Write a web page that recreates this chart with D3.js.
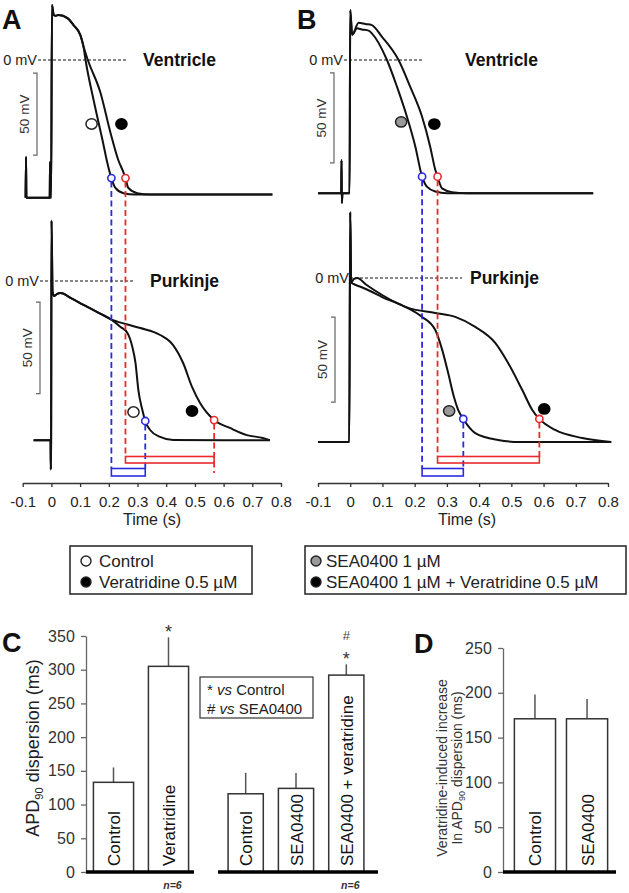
<!DOCTYPE html>
<html><head><meta charset="utf-8">
<script src="https://cdn.jsdelivr.net/npm/d3@7"></script>
<style>
body{margin:0;background:#fff}
svg{display:block}
text{font-family:Arial,"Liberation Sans",Helvetica,sans-serif}
</style>
</head><body>
<svg id="fig" width="629" height="893"></svg>
<script>
// ================= DATA =================
const timeTicks = [-0.1, 0, 0.1, 0.2, 0.3, 0.4, 0.5, 0.6, 0.7, 0.8];

// Action potentials, [time (s), membrane potential (mV)]
const ventA_ctrl = [[-0.09,-84],[-0.0885,-59],[-0.087,-84],[-0.006,-84],[-0.0045,-62],[-0.003,-84],[-0.001,-84],[0.002,33.5],[0.008,27.5],[0.015,27],[0.025,27.4],[0.056,25.5],[0.077,21.3],[0.101,15.2],[0.112,8],[0.119,0],[0.147,-24.4],[0.178,-48.8],[0.195,-62.8],[0.209,-72],[0.223,-78],[0.251,-81.2],[0.292,-82],[0.77,-82]];
const ventA_vera = [[-0.09,-84],[-0.0885,-59],[-0.087,-84],[-0.006,-84],[-0.0045,-62],[-0.003,-84],[-0.001,-84],[0.002,33.5],[0.008,27.5],[0.015,27],[0.025,27.4],[0.056,25.5],[0.077,21.3],[0.101,15.2],[0.114,7],[0.127,0],[0.171,-20],[0.206,-44.5],[0.233,-61],[0.251,-68.5],[0.258,-72],[0.268,-78],[0.299,-81.2],[0.344,-82],[0.77,-82]];
const purkA_ctrl = [[-0.062,-87],[-0.003,-87],[-0.002,-103],[-0.001,-87],[0.0005,33],[0.004,-6],[0.01,-8.2],[0.02,-7],[0.032,-6.6],[0.07,-9.5],[0.112,-13.1],[0.16,-17],[0.206,-20.8],[0.241,-25.1],[0.265,-28.4],[0.282,-36],[0.293,-44.8],[0.303,-59.6],[0.317,-70.5],[0.327,-76.5],[0.344,-81.4],[0.379,-85.2],[0.424,-86.9],[0.761,-87]];
const purkA_vera = [[-0.062,-87],[-0.003,-87],[-0.002,-103],[-0.001,-87],[0.0005,33],[0.004,-6],[0.01,-8.2],[0.02,-7],[0.032,-6.6],[0.07,-9.5],[0.112,-13.1],[0.16,-17],[0.206,-20.8],[0.258,-23.5],[0.31,-25.7],[0.379,-29.5],[0.424,-35],[0.459,-44.8],[0.49,-57.9],[0.518,-66.7],[0.567,-76],[0.622,-80.3],[0.681,-84.2],[0.737,-85.8],[0.761,-87]];
const ventB_sea = [[-0.1,-74],[-0.028,-74],[-0.027,-55.6],[-0.026,-79.4],[-0.024,-74],[-0.002,-74],[0.0,27.8],[0.006,14],[0.021,17.6],[0.036,17],[0.057,16.3],[0.067,14.8],[0.114,0],[0.145,-14.8],[0.176,-31.5],[0.202,-48],[0.223,-64.8],[0.238,-70.4],[0.264,-73.1],[0.3,-74],[0.754,-74]];
const ventB_seav = [[-0.1,-74],[-0.028,-74],[-0.027,-55.6],[-0.026,-79.4],[-0.024,-74],[-0.002,-74],[0.0,27.8],[0.006,14],[0.026,20.7],[0.047,20],[0.067,19.4],[0.098,13],[0.15,0],[0.186,-14.8],[0.223,-31.5],[0.248,-48],[0.264,-61],[0.271,-64.8],[0.285,-71.3],[0.316,-73.4],[0.36,-74],[0.754,-74]];
const purkB_sea = [[-0.1,-96.5],[-0.003,-96.5],[0.0,38.8],[0.003,-2.5],[0.01,-3.5],[0.03,-5],[0.06,-7.5],[0.099,-11.2],[0.16,-16],[0.223,-22.9],[0.264,-30.6],[0.285,-42],[0.304,-55.9],[0.322,-70],[0.335,-77.6],[0.351,-82.9],[0.388,-91.2],[0.459,-95.3],[0.528,-96.5],[0.81,-96.5]];
const purkB_seav = [[-0.1,-96.5],[-0.003,-96.5],[0.0,38.8],[0.003,-2.5],[0.012,-0.5],[0.022,0],[0.05,-4],[0.099,-10],[0.18,-17.6],[0.264,-20.6],[0.326,-22.9],[0.388,-28.8],[0.45,-38.2],[0.49,-50],[0.534,-65.9],[0.565,-77.6],[0.587,-82.9],[0.636,-89.4],[0.72,-94.1],[0.81,-96.5]];

// condition markers next to the traces, [time, mV]
const markA_vent = [[0.14,-39],[0.244,-39]];
const markA_purk = [[0.286,-71.6],[0.49,-71]];
const markB_vent = [[0.158,-34.4],[0.261,-35.6]];
const markB_purk = [[0.307,-78.2],[0.602,-77]];

// APD90 end points: ventricle ctrl, ventricle drug, Purkinje ctrl, Purkinje drug
const apd90A_t  = [0.209, 0.258, 0.327, 0.567];
const apd90A_mV = [-72, -72, -76.5, -76];
const apd90B_t  = [0.223, 0.271, 0.351, 0.587];
const apd90B_mV = [-64.8, -64.8, -82.9, -82.9];

const legendA = ["Control", "Veratridine 0.5 \u00b5M"];
const legendB = ["SEA0400 1 \u00b5M", "SEA0400 1 \u00b5M + Veratridine 0.5 \u00b5M"];

// Panel C
const cTicks = [0, 50, 100, 150, 200, 250, 300, 350];
const c1Labels = ["Control", "Veratridine"];
const c1Mean = [133, 305];
const c1Sem  = [22, 43];
const c1Sig  = ["", "*"];
const c2Labels = ["Control", "SEA0400", "SEA0400 + veratridine"];
const c2Mean = [116, 124, 292];
const c2Sem  = [31, 23, 16];
const c2Sig  = ["", "", "*#"];
const cLegend = [["*", "vs", "Control"], ["#", "vs", " SEA0400"]];
const nLabel = "n=6";

// Panel D
const dTicks = [0, 50, 100, 150, 200, 250];
const dLabels = ["Control", "SEA0400"];
const dMean = [171, 171];
const dSem  = [27, 22];

// ================= DRAWING =================
const svg = d3.select("#fig");
const INK = "#111", BLUE = "#2a2ae0", RED = "#ea2a2e", GREY = "#555";

const xA = d3.scaleLinear().domain([-0.1, 0.8]).range([22.7, 281]);
const yAV = d3.scaleLinear().domain([0, -50]).range([60, 142]);
const yAP = d3.scaleLinear().domain([0, -50]).range([281, 372.5]);
const xB = d3.scaleLinear().domain([-0.1, 0.8]).range([318, 608]);
const yBV = d3.scaleLinear().domain([0, -50]).range([60, 150]);
const yBP = d3.scaleLinear().domain([0, -50]).range([278, 363]);

function traceLine(x, y) {
  return d3.line().x(d => x(d[0])).y(d => y(d[1])).curve(d3.curveMonotoneX);
}

function panel(cfg) {
  const g = svg.append("g");
  g.append("text").attr("x", cfg.letterX).attr("y", 29).attr("font-size", 27).attr("font-weight", "bold").attr("fill", INK).text(cfg.letter);
  cfg.zero.forEach(z => {
    g.append("line").attr("x1", z.x1).attr("x2", z.x2).attr("y1", z.y(0)).attr("y2", z.y(0))
      .attr("stroke", INK).attr("stroke-width", 1).attr("stroke-dasharray", "3,2");
    g.append("text").attr("x", z.x1 - 1).attr("y", z.y(0) + 5).attr("text-anchor", "end").attr("font-size", 14.5).attr("fill", "#222").text("0 mV");
    g.append("text").attr("x", z.tx).attr("y", z.y(0) + 6).attr("font-size", 17.5).attr("font-weight", "bold").attr("fill", INK).text(z.title);
    const top = z.y(z.barTop), bot = z.y(z.barTop - 50);
    g.append("path").attr("d", `M${z.barX - 4},${top}H${z.barX}V${bot}H${z.barX - 4}`)
      .attr("fill", "none").attr("stroke", "#666").attr("stroke-width", 1.2);
    g.append("text").attr("transform", `translate(${z.barX - 8},${(top + bot) / 2}) rotate(-90)`)
      .attr("text-anchor", "middle").attr("font-size", 13.5).attr("fill", "#333").text("50 mV");
  });
  cfg.traces.forEach(t => {
    g.append("path").attr("d", traceLine(cfg.x, t.y)(t.data)).attr("fill", "none")
      .attr("stroke", INK).attr("stroke-width", 2).attr("stroke-linejoin", "round");
  });
  cfg.marks.forEach(m => {
    m.data.forEach((d, i) => {
      g.append("ellipse").attr("cx", cfg.x(d[0])).attr("cy", m.y(d[1])).attr("rx", 5.6).attr("ry", 5.2)
        .attr("fill", cfg.markFill[i]).attr("stroke", i === 0 ? "#222" : "#000").attr("stroke-width", 1.5);
    });
  });
  const t = cfg.apdT, v = cfg.apdV, x = cfg.x;
  const pV = i => cfg.yV(v[i]), pP = i => cfg.yP(v[i]);
  const RED_TOP = 456.5, RED_BOT = 463, BLU_TOP = 468.5, BLU_BOT = 476;
  const dash = (xx, y1, y2, col) => g.append("line").attr("x1", xx).attr("x2", xx).attr("y1", y1).attr("y2", y2)
      .attr("stroke", col).attr("stroke-width", 1.8).attr("stroke-dasharray", "6,3.5");
  dash(x(t[0]), pV(0) + 3.5, BLU_TOP, BLUE);
  dash(x(t[1]), pV(1) + 3.5, RED_TOP, RED);
  dash(x(t[2]), pP(2) + 3.5, BLU_TOP, BLUE);
  dash(x(t[3]), pP(3) + 3.5, cfg.redEnd, RED);
  g.append("rect").attr("x", x(t[1])).attr("y", RED_TOP).attr("width", x(t[3]) - x(t[1])).attr("height", RED_BOT - RED_TOP)
    .attr("fill", "none").attr("stroke", RED).attr("stroke-width", 1.6);
  g.append("rect").attr("x", x(t[0])).attr("y", BLU_TOP).attr("width", x(t[2]) - x(t[0])).attr("height", BLU_BOT - BLU_TOP)
    .attr("fill", "none").attr("stroke", BLUE).attr("stroke-width", 1.6);
  [[0, pV(0), BLUE], [1, pV(1), RED], [2, pP(2), BLUE], [3, pP(3), RED]].forEach(([i, yy, col]) => {
    g.append("circle").attr("cx", x(t[i])).attr("cy", yy).attr("r", 3.6).attr("fill", "#fff").attr("stroke", col).attr("stroke-width", 1.6);
  });
  const ax = g.append("g").attr("transform", "translate(0,483)")
    .call(d3.axisBottom(x).tickValues(timeTicks).tickFormat(d => String(d)).tickSize(4).tickSizeOuter(0));
  ax.select(".domain").attr("stroke", "#333").attr("stroke-width", 1.5);
  ax.selectAll(".tick line").attr("stroke", "#333").attr("stroke-width", 1.3);
  ax.selectAll(".tick text").attr("font-size", 15).attr("fill", "#222").attr("font-family", "Arial,Liberation Sans,sans-serif").attr("dy", "1.15em");
  g.append("text").attr("x", cfg.timeX).attr("y", 525).attr("text-anchor", "middle").attr("font-size", 16).attr("fill", "#222").text("Time (s)");
}

panel({
  letter: "A", letterX: 2, x: xA, yV: yAV, yP: yAP, timeX: 152, redEnd: 473,
  zero: [
    {y: yAV, x1: 38, x2: 128, tx: 143, title: "Ventricle", barX: 37, barTop: -8},
    {y: yAP, x1: 40, x2: 133, tx: 150, title: "Purkinje", barX: 40, barTop: -11.5}
  ],
  traces: [{y: yAV, data: ventA_ctrl}, {y: yAV, data: ventA_vera}, {y: yAP, data: purkA_ctrl}, {y: yAP, data: purkA_vera}],
  marks: [{y: yAV, data: markA_vent}, {y: yAP, data: markA_purk}],
  markFill: ["#fff", "#000"],
  apdT: apd90A_t, apdV: apd90A_mV
});
panel({
  letter: "B", letterX: 297, x: xB, yV: yBV, yP: yBP, timeX: 467, redEnd: 457,
  zero: [
    {y: yBV, x1: 344, x2: 422, tx: 465, title: "Ventricle", barX: 334, barTop: -7.2},
    {y: yBP, x1: 350, x2: 462, tx: 470, title: "Purkinje", barX: 335, barTop: -23}
  ],
  traces: [{y: yBV, data: ventB_sea}, {y: yBV, data: ventB_seav}, {y: yBP, data: purkB_sea}, {y: yBP, data: purkB_seav}],
  marks: [{y: yBV, data: markB_vent}, {y: yBP, data: markB_purk}],
  markFill: ["#999", "#000"],
  apdT: apd90B_t, apdV: apd90B_mV
});

// ---------- legends ----------
function legend(x0, x1, fills, labels, textX, dotX) {
  const y0 = 546, y1 = 594;
  svg.append("rect").attr("x", x0).attr("y", y0).attr("width", x1 - x0).attr("height", y1 - y0)
    .attr("fill", "#fff").attr("stroke", "#222").attr("stroke-width", 1.5);
  labels.forEach((lab, i) => {
    const cy = 561 + i * 21;
    svg.append("circle").attr("cx", dotX).attr("cy", cy).attr("r", 5).attr("fill", fills[i]).attr("stroke", "#222").attr("stroke-width", 1.4);
    svg.append("text").attr("x", textX).attr("y", cy + 6).attr("font-size", 17).attr("fill", "#222").text(lab);
  });
}
legend(70, 252, ["#fff", "#000"], legendA, 99, 86);
legend(305, 626, ["#999", "#000"], legendB, 326, 316);

// ---------- Panel C ----------
const yC = d3.scaleLinear().domain([0, 350]).range([872, 636]);
const xC1 = d3.scaleBand().domain(d3.range(c1Labels.length)).range([86, 196]).paddingInner(0.27).paddingOuter(0.135);
const xC2 = d3.scaleBand().domain(d3.range(c2Labels.length)).range([216, 376]).paddingInner(0.3).paddingOuter(0.24);

function yAxis(scale, ticks, x0) {
  const a = svg.append("g").attr("transform", `translate(${x0},0)`)
    .call(d3.axisLeft(scale).tickValues(ticks).tickSize(5).tickSizeOuter(0));
  a.select(".domain").attr("stroke", "#666").attr("stroke-width", 1.3);
  a.selectAll(".tick line").attr("stroke", "#666").attr("stroke-width", 1.3);
  a.selectAll(".tick text").attr("font-size", 16).attr("fill", "#333").attr("font-family", "Arial,Liberation Sans,sans-serif").attr("dx", "-0.2em");
}
yAxis(yC, cTicks, 86);

function bars(xs, ys, labels, mean, sem, sig, nOn) {
  labels.forEach((lab, i) => {
    const bx = xs(i), bw = xs.bandwidth(), cx = bx + bw / 2;
    svg.append("line").attr("x1", cx).attr("x2", cx).attr("y1", ys(mean[i])).attr("y2", ys(mean[i] + sem[i]))
      .attr("stroke", GREY).attr("stroke-width", 1.5);
    svg.append("rect").attr("x", bx).attr("y", ys(mean[i])).attr("width", bw).attr("height", ys(0) - ys(mean[i]))
      .attr("fill", "#fff").attr("stroke", "#333").attr("stroke-width", 1.5);
    svg.append("text").attr("transform", `translate(${cx + 6.5},${ys(0) - 6}) rotate(-90)`)
      .attr("font-size", 17).attr("fill", INK).text(lab);
    if (sig && sig[i]) {
      const ye = ys(mean[i] + sem[i]);
      if (sig[i].includes("#")) svg.append("text").attr("x", cx).attr("y", ye - 24).attr("text-anchor", "middle").attr("font-size", 13).attr("fill", "#444").text("#");
      if (sig[i].includes("*")) svg.append("text").attr("x", cx).attr("y", ye + 1).attr("text-anchor", "middle").attr("font-size", 18).attr("fill", "#333").text("*");
    }
    if (nOn && nOn[i]) svg.append("text").attr("x", cx + 4).attr("y", 889).attr("text-anchor", "middle").attr("font-size", 10.5)
      .attr("font-style", "italic").attr("font-weight", "bold").attr("fill", "#333").text(nLabel);
  });
}
bars(xC1, yC, c1Labels, c1Mean, c1Sem, c1Sig, [false, true]);
bars(xC2, yC, c2Labels, c2Mean, c2Sem, c2Sig, [false, false, true]);
svg.append("line").attr("x1", 86).attr("x2", 194).attr("y1", yC(0)).attr("y2", yC(0)).attr("stroke", "#000").attr("stroke-width", 3.5);
svg.append("line").attr("x1", 218).attr("x2", 378).attr("y1", yC(0)).attr("y2", yC(0)).attr("stroke", "#000").attr("stroke-width", 3.5);

svg.append("text").attr("x", 2).attr("y", 652).attr("font-size", 27).attr("font-weight", "bold").attr("fill", INK).text("C");
const ct = svg.append("text").attr("transform", "translate(39,748) rotate(-90)").attr("text-anchor", "middle").attr("font-size", 18).attr("fill", "#222");
ct.append("tspan").text("APD");
ct.append("tspan").attr("font-size", 11).attr("dy", 4).text("90");
ct.append("tspan").attr("dy", -4).text(" dispersion (ms)");

svg.append("rect").attr("x", 200).attr("y", 677).attr("width", 113).attr("height", 41).attr("fill", "#fff").attr("stroke", "#333").attr("stroke-width", 1.2);
cLegend.forEach((row, i) => {
  const t = svg.append("text").attr("x", 207).attr("y", 695 + i * 19).attr("font-size", 15).attr("fill", "#222");
  t.append("tspan").text(row[0] + " ");
  t.append("tspan").attr("font-style", "italic").text(row[1]);
  t.append("tspan").text(" " + row[2]);
});

// ---------- Panel D ----------
const yD = d3.scaleLinear().domain([0, 250]).range([872, 648]);
const xD = d3.scaleBand().domain(d3.range(dLabels.length)).range([505, 617]).paddingInner(0.21).paddingOuter(0.18);
yAxis(yD, dTicks, 503);
bars(xD, yD, dLabels, dMean, dSem, null, null);
svg.append("line").attr("x1", 503).attr("x2", 616).attr("y1", yD(0)).attr("y2", yD(0)).attr("stroke", "#000").attr("stroke-width", 3.5);
svg.append("text").attr("x", 414).attr("y", 653).attr("font-size", 27).attr("font-weight", "bold").attr("fill", INK).text("D");
const dt1 = svg.append("text").attr("transform", "translate(447,768) rotate(-90)").attr("text-anchor", "middle").attr("font-size", 14).attr("fill", "#333");
dt1.text("Veratridine-induced increase");
const dt2 = svg.append("text").attr("transform", "translate(462,768) rotate(-90)").attr("text-anchor", "middle").attr("font-size", 14).attr("fill", "#333");
dt2.append("tspan").text("In APD");
dt2.append("tspan").attr("font-size", 9).attr("dy", 3).text("90");
dt2.append("tspan").attr("dy", -3).text(" dispersion (ms)");
</script>
</body></html>
